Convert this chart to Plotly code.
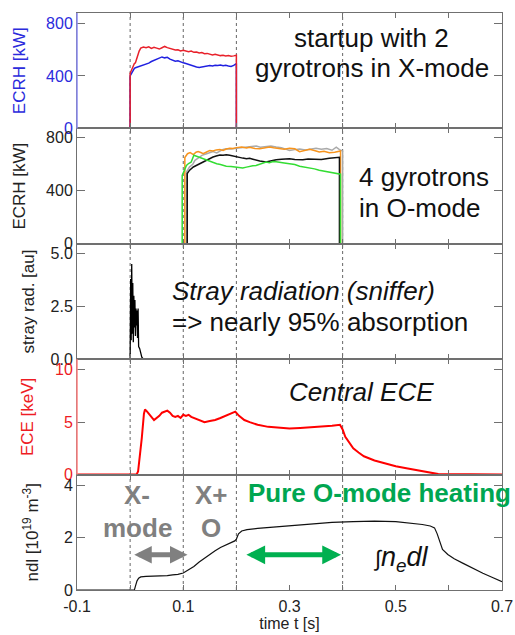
import plotly.graph_objects as go
from plotly.subplots import make_subplots

# ---------------- data ----------------
x_ticks = [-0.1, 0.0, 0.1, 0.2, 0.3, 0.4, 0.5, 0.6, 0.7]
x_ticklabels = ["-0.1", "", "0.1", "", "0.3", "", "0.5", "", "0.7"]
marker_times = [0.0, 0.1, 0.2, 0.4]

# Panel 1: ECRH X-mode startup (2 gyrotrons)
t_xmode = [-0.1, 0.0, 0.0, 0.003, 0.006, 0.008, 0.01, 0.013, 0.017, 0.02,
           0.025, 0.03, 0.035, 0.04, 0.045, 0.05, 0.055, 0.06, 0.065, 0.07,
           0.075, 0.08, 0.085, 0.09, 0.095, 0.1, 0.105, 0.11, 0.115, 0.12,
           0.125, 0.13, 0.135, 0.14, 0.145, 0.15, 0.155, 0.16, 0.165, 0.17,
           0.175, 0.18, 0.185, 0.19, 0.195, 0.2, 0.2, 0.7]
ecrh_x_red = [0, 0, 420, 445, 480, 495, 500, 545, 590, 612,
              620, 615, 622, 610, 618, 612, 605, 615, 625, 616,
              608, 605, 598, 600, 590, 595, 588, 585, 590, 580,
              583, 575, 578, 570, 572, 565, 560, 565, 558, 555,
              557, 553, 555, 551, 553, 558, 0, 0]
ecrh_x_blue = [0, 0, 400, 425, 450, 458, 462, 466, 470, 475,
               480, 490, 498, 510, 518, 530, 536, 545, 538, 542,
               528, 520, 512, 515, 505, 500, 495, 488, 480, 474,
               468, 465, 468, 472, 478, 480, 476, 482, 479, 483,
               478, 481, 476, 472, 480, 495, 0, 0]

# Panel 2: ECRH O-mode (4 gyrotrons)
t_green = [-0.1, 0.098, 0.098, 0.102, 0.106, 0.11, 0.115, 0.12, 0.125, 0.131,
           0.137, 0.144, 0.15, 0.156, 0.163, 0.17, 0.175, 0.181, 0.19, 0.2,
           0.206, 0.212, 0.219, 0.225, 0.231, 0.237, 0.244, 0.25, 0.256, 0.262,
           0.269, 0.275, 0.281, 0.29, 0.3, 0.31, 0.319, 0.328, 0.338, 0.347,
           0.356, 0.365, 0.375, 0.383, 0.391, 0.396, 0.396, 0.7]
ecrh_o_green = [0, 0, 516, 560, 591, 605, 616, 668, 660, 650,
                640, 629, 620, 612, 604, 598, 590, 585, 582, 579,
                575, 572, 578, 585, 588, 591, 600, 605, 616, 612,
                621, 618, 616, 610, 604, 598, 585, 580, 572, 565,
                554, 548, 541, 535, 529, 525, 0, 0]
t_black = [-0.1, 0.1075, 0.1075, 0.112, 0.119, 0.125, 0.131, 0.137, 0.144, 0.15,
           0.156, 0.162, 0.169, 0.175, 0.181, 0.1875, 0.194, 0.2,
           0.206, 0.212, 0.219, 0.225, 0.231, 0.237, 0.244, 0.25,
           0.256, 0.262, 0.269, 0.275, 0.285, 0.3, 0.31, 0.325,
           0.335, 0.35, 0.36, 0.375, 0.383, 0.39, 0.394, 0.394, 0.7]
ecrh_o_black = [0, 0, 530, 555, 579, 592, 604, 615, 629, 640,
                654, 662, 670, 668, 672, 667, 660, 655,
                650, 646, 641, 645, 638, 630, 624, 620,
                616, 622, 629, 634, 638, 641, 636, 634,
                640, 641, 636, 645, 648, 650, 652, 0, 0]
t_orange = [-0.1, 0.103, 0.103, 0.108, 0.113, 0.119, 0.124, 0.128, 0.133, 0.1375,
            0.144, 0.15, 0.156, 0.162, 0.169, 0.175, 0.181, 0.1875, 0.194, 0.2,
            0.21, 0.219, 0.225, 0.235, 0.244, 0.25, 0.2625, 0.27,
            0.281, 0.29, 0.3, 0.31, 0.319, 0.33, 0.338, 0.35,
            0.356, 0.365, 0.375, 0.385, 0.391, 0.396, 0.396, 0.7]
ecrh_o_orange = [0, 0, 650, 679, 687, 672, 690, 695, 688, 679,
                 692, 704, 700, 708, 710, 704, 715, 721, 718, 725,
                 730, 722, 727, 718, 717, 722, 730, 724,
                 718, 712, 720, 716, 695, 705, 712, 700,
                 692, 698, 687, 690, 695, 700, 0, 0]
t_gray = [-0.1, 0.106, 0.106, 0.112, 0.118, 0.122, 0.128, 0.135, 0.144, 0.15,
          0.156, 0.163, 0.169, 0.175, 0.181, 0.19, 0.2, 0.21,
          0.219, 0.228, 0.2375, 0.245, 0.256, 0.265, 0.275, 0.285,
          0.294, 0.3, 0.31, 0.319, 0.33, 0.34, 0.35, 0.36,
          0.37, 0.38, 0.388, 0.394, 0.4, 0.4, 0.7]
ecrh_o_gray = [0, 0, 541, 580, 600, 629, 645, 667, 679, 690,
               695, 685, 700, 712, 717, 715, 720, 725,
               730, 733, 737, 728, 734, 737, 730, 725,
               712, 704, 710, 715, 708, 716, 720, 712,
               718, 705, 728, 710, 700, 0, 0]

# Panel 3: stray radiation (sniffer)
t_stray = [-0.1, 0.0, 0.001, 0.002, 0.003, 0.004, 0.005, 0.006, 0.007, 0.008,
           0.009, 0.010, 0.011, 0.012, 0.013, 0.014, 0.015, 0.016, 0.018, 0.020,
           0.022, 0.025, 0.7]
stray = [0.0, 0.0, 3.8, 0.9, 4.5, 1.2, 3.6, 0.8, 3.0, 1.5,
         2.8, 1.1, 2.4, 1.6, 2.3, 1.0, 2.4, 0.6, 0.5, 0.3,
         0.1, 0.0, 0.0]

# Panel 4: central ECE
t_ece = [-0.1, 0.012, 0.015, 0.018, 0.022, 0.026, 0.028, 0.032, 0.036, 0.04,
         0.045, 0.05, 0.055, 0.06, 0.065, 0.07, 0.075, 0.08, 0.085, 0.09,
         0.095, 0.1, 0.105, 0.11, 0.115, 0.12, 0.13, 0.14, 0.15, 0.16,
         0.17, 0.18, 0.19, 0.198, 0.205, 0.215, 0.225, 0.24, 0.26, 0.28,
         0.3, 0.32, 0.34, 0.36, 0.38, 0.395, 0.4, 0.405, 0.41, 0.42,
         0.43, 0.44, 0.46, 0.48, 0.5, 0.52, 0.54, 0.56, 0.58, 0.7]
ece = [0, 0, 0.3, 1.5, 3.5, 5.8, 6.2, 6.0, 5.8, 5.5,
       5.2, 5.4, 5.6, 5.9, 6.0, 6.1, 5.9, 5.6, 5.5, 5.6,
       5.4, 5.7, 5.6, 5.7, 5.5, 5.4, 5.2, 5.0, 5.1, 5.2,
       5.4, 5.6, 5.8, 6.0, 5.6, 5.2, 5.0, 4.75, 4.55, 4.45,
       4.4, 4.45, 4.5, 4.55, 4.65, 4.75, 4.3, 3.6, 3.2, 2.5,
       2.1, 1.75, 1.35, 1.05, 0.8, 0.6, 0.4, 0.2, 0.05, 0.0]

# Panel 5: line integrated density
t_ndl = [-0.1, 0.008, 0.01, 0.013, 0.016, 0.02, 0.03, 0.05, 0.07, 0.08,
         0.09, 0.1, 0.11, 0.12, 0.13, 0.14, 0.15, 0.16, 0.17, 0.18,
         0.19, 0.197, 0.2, 0.204, 0.21, 0.22, 0.24, 0.26, 0.3, 0.34,
         0.38, 0.42, 0.46, 0.5, 0.53, 0.55, 0.565, 0.573, 0.578, 0.583,
         0.588, 0.598, 0.61, 0.626, 0.645, 0.664, 0.68, 0.7]
ndl = [0, 0, 0.15, 0.35, 0.45, 0.5, 0.52, 0.53, 0.55, 0.58,
       0.6, 0.65, 0.76, 0.9, 1.07, 1.22, 1.36, 1.5, 1.63, 1.73,
       1.82, 1.88, 1.95, 2.15, 2.26, 2.31, 2.36, 2.39, 2.46, 2.53,
       2.59, 2.62, 2.64, 2.62, 2.57, 2.51, 2.45, 2.38, 2.15, 1.8,
       1.55, 1.36, 1.2, 1.03, 0.83, 0.64, 0.5, 0.32]

# ---------------- figure ----------------
BLUE = "#2b2bdc"
RED = "#ee1c24"
GRAY_TXT = "#808080"
GREEN_TXT = "#00a651"
FRAME = "#707070"
FONT = "Liberation Sans, Arial, sans-serif"

fig = make_subplots(rows=5, cols=1, shared_xaxes=True, vertical_spacing=0)

fig.add_trace(go.Scatter(x=t_xmode, y=ecrh_x_blue, mode="lines",
                         line=dict(color="#2020e0", width=1.5)), row=1, col=1)
fig.add_trace(go.Scatter(x=t_xmode, y=ecrh_x_red, mode="lines",
                         line=dict(color="#e8202a", width=1.5)), row=1, col=1)

fig.add_trace(go.Scatter(x=t_gray, y=ecrh_o_gray, mode="lines",
                         line=dict(color="#aaaaaa", width=1.5)), row=2, col=1)
fig.add_trace(go.Scatter(x=t_orange, y=ecrh_o_orange, mode="lines",
                         line=dict(color="#f7941d", width=1.5)), row=2, col=1)
fig.add_trace(go.Scatter(x=t_black, y=ecrh_o_black, mode="lines",
                         line=dict(color="#111111", width=1.5)), row=2, col=1)
fig.add_trace(go.Scatter(x=t_green, y=ecrh_o_green, mode="lines",
                         line=dict(color="#33dd33", width=1.5)), row=2, col=1)

fig.add_trace(go.Scatter(x=t_stray, y=stray, mode="lines",
                         line=dict(color="#000000", width=1.3)), row=3, col=1)

fig.add_trace(go.Scatter(x=t_ece, y=ece, mode="lines",
                         line=dict(color="#ff0000", width=2)), row=4, col=1)

fig.add_trace(go.Scatter(x=t_ndl, y=ndl, mode="lines",
                         line=dict(color="#111111", width=1.2)), row=5, col=1)

for i in range(1, 6):
    fig.update_xaxes(row=i, col=1, range=[-0.1, 0.7], tickvals=x_ticks,
                     ticktext=x_ticklabels, ticks="inside", ticklen=5,
                     tickcolor=FRAME, showline=True, linecolor=FRAME,
                     mirror="ticks", showgrid=False, zeroline=False,
                     automargin=False, showticklabels=(i == 5),
                     tickfont=dict(size=16, color="#222222"))

fig.update_xaxes(row=5, col=1, ticklabelstandoff=2,
                 title=dict(text="time t [s]", font=dict(size=16, color="#222222"),
                            standoff=0))

yspec = [
    dict(row=1, rng=[0, 880], vals=[0, 400, 800], fmt="d", title="ECRH [kW]", color=BLUE, standoff=16),
    dict(row=2, rng=[0, 870], vals=[0, 400, 800], fmt="d", title="ECRH [kW]", color="#222222", standoff=16),
    dict(row=3, rng=[0, 5.46], vals=[0, 2.5, 5.0], fmt=".1f", title="stray rad. [au]", color="#222222", standoff=11),
    dict(row=4, rng=[0, 11.0], vals=[0, 5, 10], fmt="d", title="ECE [keV]", color=RED, standoff=17),
    dict(row=5, rng=[0, 4.42], vals=[0, 2, 4], fmt="d",
         title="ndl [10<sup>19</sup> m<sup>-3</sup>]", color="#222222", standoff=20),
]
for s in yspec:
    fig.update_yaxes(row=s["row"], col=1, range=s["rng"], tickvals=s["vals"],
                     tickformat=s["fmt"], ticks="inside", ticklen=8,
                     tickcolor=FRAME, showline=True, linecolor=FRAME,
                     mirror="ticks", showgrid=False, zeroline=False,
                     automargin=False,
                     tickfont=dict(size=16, color=s["color"]),
                     title=dict(text=s["title"], font=dict(size=17, color=s["color"]),
                                standoff=s["standoff"]))

shapes = []
for tm in marker_times:
    shapes.append(dict(type="line", xref="x", yref="paper", x0=tm, x1=tm, y0=0, y1=1,
                       line=dict(color="#666666", width=1, dash="dot"), layer="below"))
shapes.append(dict(type="line", xref="paper", yref="paper", x0=0, x1=0, y0=0.8, y1=1.0,
                   line=dict(color="#8a8af0", width=1.5)))
shapes.append(dict(type="line", xref="paper", yref="paper", x0=0, x1=0, y0=0.2, y1=0.4,
                   line=dict(color="#ff8080", width=1.5)))

big = 26


def txt(text, x, y, xanchor="center", color="#111111", size=big, ref="paper"):
    xr, yr = ("paper", "paper") if ref == "paper" else ("x5", "y5")
    return dict(x=x, y=y, xref=xr, yref=yr, showarrow=False, text=text,
                xanchor=xanchor, yanchor="middle",
                font=dict(size=size, color=color))


annotations = [
    txt("startup with 2", 0.694, 0.957),
    txt("gyrotrons in X-mode", 0.694, 0.905),
    txt("4 gyrotrons", 0.659, 0.716, xanchor="left"),
    txt("in O-mode", 0.659, 0.662, xanchor="left"),
    txt("<i>Stray radiation (sniffer)</i>", 0.218, 0.519, xanchor="left"),
    txt("=> nearly 95% absorption", 0.218, 0.464, xanchor="left"),
    txt("<i>Central ECE</i>", 0.669, 0.343),
    txt("<b>X-</b>", 0.013, 3.65, color=GRAY_TXT, ref="data"),
    txt("<b>mode</b>", 0.013, 2.38, color=GRAY_TXT, ref="data"),
    txt("<b>X+</b>", 0.153, 3.65, color=GRAY_TXT, ref="data"),
    txt("<b>O</b>", 0.153, 2.38, color=GRAY_TXT, ref="data"),
    txt("<b>Pure O-mode heating</b>", 0.219, 3.73, xanchor="left", color=GREEN_TXT, ref="data"),
    txt("<span style='font-size:22px'>∫</span><i>n<sub>e</sub>dl</i>", 0.509, 1.2,
        size=27, ref="data"),
    dict(x=0.108, y=1.35, ax=0.005, ay=1.35, xref="x5", yref="y5", axref="x5", ayref="y5",
         text="", showarrow=True, arrowhead=2, arrowside="end+start", arrowsize=0.7,
         arrowwidth=5, arrowcolor="#808080"),
    dict(x=0.397, y=1.35, ax=0.216, ay=1.35, xref="x5", yref="y5", axref="x5", ayref="y5",
         text="", showarrow=True, arrowhead=2, arrowside="end+start", arrowsize=0.75,
         arrowwidth=5, arrowcolor="#00b050"),
]

fig.update_layout(width=515, height=635,
                  margin=dict(l=77, r=13, t=13, b=45, autoexpand=False),
                  paper_bgcolor="white", plot_bgcolor="white",
                  showlegend=False, shapes=shapes, annotations=annotations,
                  font=dict(family=FONT, color="#222222"))

fig.write_html("out.html")
